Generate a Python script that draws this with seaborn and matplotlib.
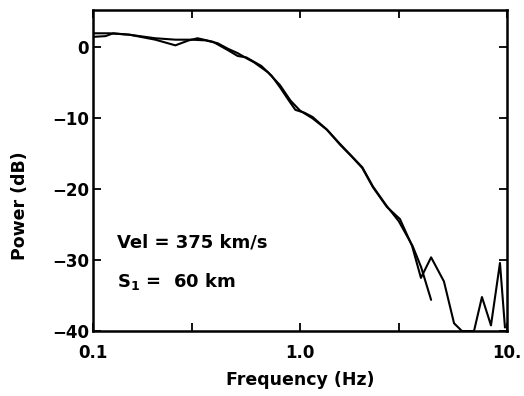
import matplotlib
matplotlib.use("Agg")
import matplotlib.pyplot as plt
import matplotlib.ticker as mticker
import numpy as np
import pandas as pd
import seaborn as sns

# Model spectrum (smooth curve)
model_freq = [0.10, 0.12, 0.15, 0.20, 0.25, 0.30, 0.35, 0.40, 0.45, 0.50, 0.55,
              0.60, 0.70, 0.80, 0.90, 1.00, 1.15, 1.35, 1.56, 1.80, 2.00, 2.25,
              2.60, 3.00, 3.50, 3.85, 4.30]
model_db = [2.0, 2.0, 1.8, 1.3, 1.1, 1.1, 1.0, 0.6, -0.2, -0.8, -1.5,
            -2.1, -3.5, -5.3, -7.5, -8.9, -10.0, -11.6, -13.6, -15.5, -16.9, -19.6,
            -22.2, -24.5, -28.0, -31.0, -35.6]

# Observed spectrum (noisy curve)
obs_freq = [0.10, 0.115, 0.125, 0.15, 0.20, 0.25, 0.29, 0.32, 0.38, 0.45, 0.50,
            0.55, 0.65, 0.73, 0.80, 0.875, 0.95, 1.05, 1.15, 1.35, 1.56, 1.78,
            2.00, 2.25, 2.63, 3.04, 3.30, 3.48, 3.84, 4.30, 4.96, 5.55, 6.06,
            6.93, 7.57, 8.37, 9.25, 9.78]
obs_db = [1.5, 1.6, 2.0, 1.8, 1.1, 0.3, 1.0, 1.3, 0.8, -0.4, -1.2,
          -1.4, -2.6, -4.0, -5.6, -7.3, -8.8, -9.2, -9.8, -11.6, -13.7, -15.4,
          -17.0, -19.7, -22.5, -24.2, -26.5, -28.0, -32.5, -29.6, -33.0, -38.9, -40.0,
          -40.0, -35.2, -39.2, -30.4, -39.5]

x_ticks = [0.1, 1.0, 10.0]
x_tick_labels = ["0.1", "1.0", "10."]
x_minor_ticks = [0.3, 3.0]
y_ticks = [0, -10, -20, -30, -40]
y_tick_labels = ["0", "\u221210", "\u221220", "\u221230", "\u221240"]

sns.set_style("ticks")
plt.rcParams["font.family"] = ["DejaVu Sans"]
plt.rcParams["font.weight"] = "bold"
plt.rcParams["text.color"] = "black"
plt.rcParams["axes.labelcolor"] = "black"
plt.rcParams["xtick.color"] = "black"
plt.rcParams["ytick.color"] = "black"

model = pd.DataFrame({"freq": model_freq, "power": model_db})
obs = pd.DataFrame({"freq": obs_freq, "power": obs_db})

fig = plt.figure(figsize=(5.24, 3.96), dpi=100)
ax = fig.add_axes([0.1775, 0.164, 0.79, 0.811])

sns.lineplot(data=model, x="freq", y="power", ax=ax, color="black",
             linewidth=1.5, estimator=None, sort=False)
sns.lineplot(data=obs, x="freq", y="power", ax=ax, color="black",
             linewidth=1.5, estimator=None, sort=False)

ax.set_xscale("log")
ax.set_xlim(0.1, 10.0)
ax.set_ylim(-40, 5.3)

ax.xaxis.set_major_locator(mticker.FixedLocator(x_ticks))
ax.xaxis.set_major_formatter(mticker.FixedFormatter(x_tick_labels))
ax.xaxis.set_minor_locator(mticker.FixedLocator(x_minor_ticks))
ax.xaxis.set_minor_formatter(mticker.NullFormatter())
ax.set_yticks(y_ticks)
ax.set_yticklabels(y_tick_labels)

ax.tick_params(axis="both", which="both", direction="in", top=True, right=True,
               length=6, width=1.3, colors="black", labelsize=12)
ax.tick_params(axis="x", which="major", pad=9)
ax.tick_params(axis="y", which="major", pad=3)

for side in ["left", "right", "top", "bottom"]:
    ax.spines[side].set_visible(True)
    ax.spines[side].set_linewidth(1.8)
    ax.spines[side].set_color("black")

ax.set_xlabel("Frequency (Hz)", fontsize=12.5, fontweight="bold", color="black")
ax.set_ylabel("Power (dB)", fontsize=12.5, fontweight="bold", color="black")
ax.xaxis.set_label_coords(0.5, -0.125)
ax.yaxis.set_label_coords(-0.155, 0.39)

ax.text(0.058, 0.275, "Vel = 375 km/s", transform=ax.transAxes, color="black",
        fontsize=13, fontweight="bold", va="center", ha="left")
ax.text(0.058, 0.155, "S$_\\mathregular{1}$ =  60 km", transform=ax.transAxes,
        color="black", fontsize=13, fontweight="bold", va="center", ha="left")

fig.savefig("out.png", dpi=100, facecolor="white")
